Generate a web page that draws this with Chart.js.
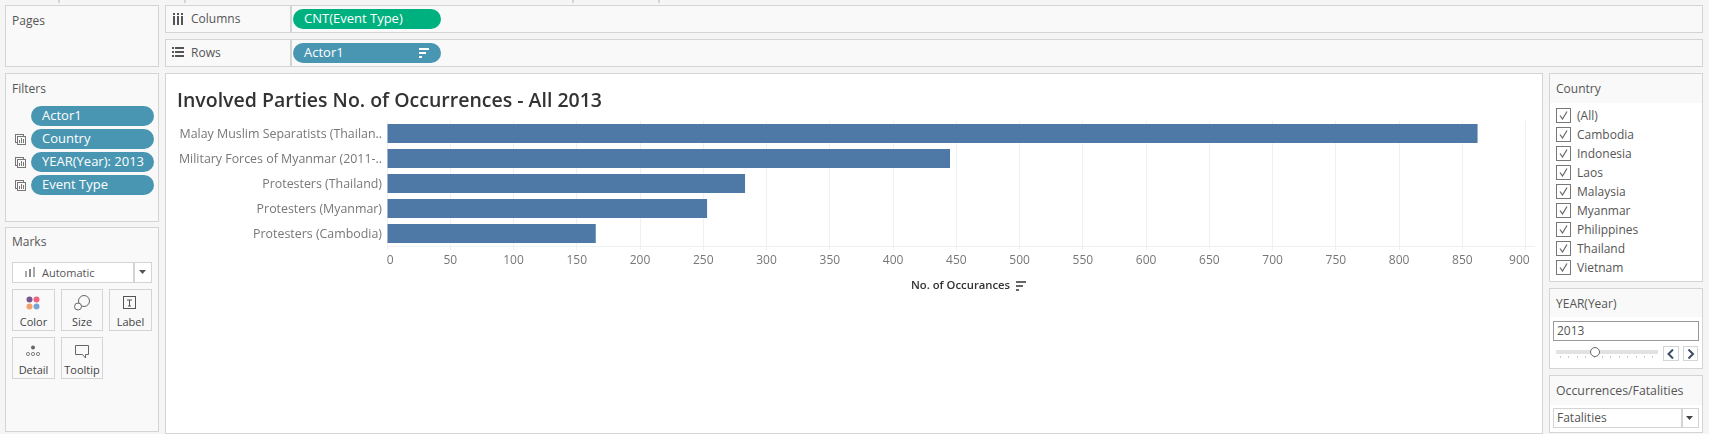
<!DOCTYPE html>
<html>
<head>
<meta charset="utf-8">
<title>Involved Parties No. of Occurrences - All 2013</title>
<script src="https://cdn.jsdelivr.net/npm/chart.js@4"></script>
<style>
html, body { margin: 0; padding: 0; background: #fff; overflow: hidden; }
body { width: 1709px; height: 441px; position: relative; font-family: "Open Sans", sans-serif; font-size: 12px; color: #555; }
#back { position: absolute; left: 0; top: 0; width: 1709px; height: 434px; background: #f5f5f5; }
.box { position: absolute; box-sizing: border-box; }
.panel { background: #f9f9f9; border: 1px solid #d4d4d4; }
.white { background: #fff; }
.plain { background: #fff; border: 1px solid #d4d4d4; }
.pill { border-radius: 10px; }
.blue { background: #4996b2; }
.green { background: #00b180; }
.txt { position: absolute; white-space: nowrap; line-height: 16px; }
.on { color: #fff; font-size: 13px; margin-top: -1px; }
.small { font-size: 11px; }
.icon { position: absolute; }
#chart-wrap { position: absolute; left: 166px; top: 74px; width: 1376px; height: 222px; }
</style>
</head>
<body>
<div id="back"></div>
<div id="ui"></div>
<div id="chart-wrap"><canvas id="chart1" width="1376" height="222" style="width:1376px;height:222px"></canvas></div>
<script>
var actors = [
    "Malay Muslim Separatists (Thailan..",
    "Military Forces of Myanmar (2011-..",
    "Protesters (Thailand)",
    "Protesters (Myanmar)",
    "Protesters (Cambodia)"
];
var occurrences = [862, 445, 283, 253, 165];
var xTicks = [0, 50, 100, 150, 200, 250, 300, 350, 400, 450, 500, 550, 600, 650, 700, 750, 800, 850, 900];
var xMax = 906.6;
var chartTitle = "Involved Parties No. of Occurrences - All 2013";
var xTitle = "No. of Occurances";
var filters = ["Actor1", "Country", "YEAR(Year): 2013", "Event Type"];
var countries = ["(All)", "Cambodia", "Indonesia", "Laos", "Malaysia", "Myanmar", "Philippines", "Thailand", "Vietnam"];
var markCards = ["Color", "Size", "Label", "Detail", "Tooltip"];

var ui = document.getElementById("ui");

function box(x1, y1, x2, y2, cls) {
    var d = document.createElement("div");
    d.className = "box " + cls;
    d.style.left = x1 + "px";
    d.style.top = y1 + "px";
    d.style.width = (x2 - x1) + "px";
    d.style.height = (y2 - y1) + "px";
    ui.appendChild(d);
    return d;
}

function label(x, yc, text, cls) {
    var d = document.createElement("div");
    d.className = "txt " + (cls || "");
    d.style.left = x + "px";
    d.style.top = (yc - 8) + "px";
    d.textContent = text;
    ui.appendChild(d);
    return d;
}

function icon(x, y, w, h, inner) {
    var d = document.createElement("div");
    d.className = "icon";
    d.style.left = x + "px";
    d.style.top = y + "px";
    d.innerHTML = '<svg width="' + w + '" height="' + h + '" viewBox="0 0 ' + w + ' ' + h + '" style="display:block">' + inner + '</svg>';
    ui.appendChild(d);
}

function sortIcon(x, y, col) {
    icon(x, y, 11, 10, '<rect x="0" y="0" width="10" height="2" fill="' + col + '"/><rect x="0" y="4" width="7" height="2" fill="' + col + '"/><rect x="0" y="8" width="3" height="2" fill="' + col + '"/>');
}

// top strip
box(58, 0, 59, 3, "panel");
box(184, 0, 185, 3, "panel");
box(572, 0, 573, 3, "panel");
box(658, 0, 659, 3, "panel");

// shelves
box(5, 5, 159, 67, "panel");
label(12, 21, "Pages");
box(165, 5, 1703, 33, "panel");
box(290, 5, 291, 33, "panel");
box(165, 39, 1703, 67, "panel");
box(290, 39, 291, 67, "panel");
icon(172, 13, 12, 12, '<rect x="1" y="3" width="2" height="9" fill="#555"/><rect x="5" y="3" width="2" height="9" fill="#555"/><rect x="9" y="3" width="2" height="9" fill="#555"/><rect x="1" y="0" width="2" height="2" fill="#555"/><rect x="5" y="0" width="2" height="2" fill="#555"/><rect x="9" y="0" width="2" height="2" fill="#555"/>');
label(191, 19, "Columns");
icon(172, 47, 12, 11, '<rect x="0" y="0" width="2" height="2" fill="#555"/><rect x="3" y="0" width="9" height="2" fill="#555"/><rect x="0" y="4" width="2" height="2" fill="#555"/><rect x="3" y="4" width="9" height="2" fill="#555"/><rect x="0" y="8" width="2" height="2" fill="#555"/><rect x="3" y="8" width="9" height="2" fill="#555"/>');
label(191, 53, "Rows");
box(293, 9, 441, 29, "pill green");
label(304, 19, "CNT(Event Type)", "on");
box(293, 43, 441, 63, "pill blue");
label(304, 53, "Actor1", "on");
sortIcon(419, 48, "#fff");

// filters
box(5, 73, 159, 222, "panel");
label(12, 89, "Filters");
filters.forEach(function (f, i) {
    var top = 106 + i * 23;
    box(31, top, 154, top + 20, "pill blue");
    label(42, top + 10, f, "on");
    if (i > 0) {
        icon(15, top + 5, 11, 11, '<rect x="0.5" y="0.5" width="8" height="8" fill="none" stroke="#777"/><rect x="2.5" y="2.5" width="8" height="8" fill="#f9f9f9" stroke="#777"/><rect x="4" y="6" width="1" height="3" fill="#777"/><rect x="6" y="4" width="1" height="5" fill="#777"/><rect x="8" y="5" width="1" height="4" fill="#777"/>');
    }
});

// marks
box(5, 227, 159, 432, "panel");
label(12, 242, "Marks");
box(12, 262, 152, 283, "plain");
box(133, 262, 134, 283, "panel");
icon(25, 267, 10, 10, '<rect x="0" y="4" width="2" height="6" fill="#aaa"/><rect x="4" y="2" width="2" height="8" fill="#888"/><rect x="8" y="0" width="2" height="10" fill="#aaa"/>');
label(42, 273, "Automatic", "small");
icon(139, 270, 8, 5, '<path d="M0 0H7L3.5 4Z" fill="#555"/>');
var cardSpots = [[12, 55, 289], [61, 103, 289], [109, 152, 289], [12, 55, 337], [61, 103, 337]];
markCards.forEach(function (c, i) {
    var s = cardSpots[i];
    box(s[0], s[2], s[1], s[2] + 42, "panel");
    var t = label(s[0], s[2] + 33, c, "small");
    t.style.width = (s[1] - s[0]) + "px";
    t.style.textAlign = "center";
    t.style.color = "#444";
});
icon(26, 296, 14, 14, '<circle cx="3.5" cy="3.5" r="3" fill="#76578f"/><circle cx="10.5" cy="3.5" r="3" fill="#f0627d"/><circle cx="3.5" cy="10.5" r="3" fill="#f2a26d"/><circle cx="10.5" cy="10.5" r="3" fill="#7aa5d2"/>');
icon(74, 295, 16, 16, '<circle cx="10" cy="6" r="5.5" fill="none" stroke="#666"/><circle cx="4" cy="11.5" r="3.5" fill="#f9f9f9" stroke="#666"/>');
icon(123, 296, 14, 14, '<rect x="0.5" y="0.5" width="12" height="12" fill="none" stroke="#555"/><path d="M4 4H9M6.5 4V10M5 10H8" fill="none" stroke="#555"/>');
icon(26, 345, 14, 12, '<circle cx="7" cy="2.5" r="2" fill="#666"/><circle cx="2" cy="9" r="1.6" fill="none" stroke="#666" stroke-width="0.8"/><circle cx="7" cy="9" r="1.6" fill="none" stroke="#666" stroke-width="0.8"/><circle cx="12" cy="9" r="1.6" fill="none" stroke="#666" stroke-width="0.8"/>');
icon(75, 345, 15, 14, '<path d="M0.5 0.5H13.5V9.5H10.5V13L7.5 9.5H0.5Z" fill="none" stroke="#666"/>');

// chart panel
box(165, 73, 1543, 434, "plain");

// country filter
box(1549, 73, 1703, 282, "plain");
box(1550, 74, 1702, 103, "panel").style.border = "none";
label(1556, 89, "Country");
countries.forEach(function (c, i) {
    var top = 108 + i * 19;
    box(1556, top, 1571, top + 15, "plain").style.borderColor = "#777";
    icon(1559, top + 3, 9, 9, '<path d="M1 4.5L3.5 8L8 0.5" fill="none" stroke="#666" stroke-width="1.2"/>');
    label(1577, top + 8, c);
});

// year slider
box(1549, 288, 1703, 369, "plain");
box(1550, 289, 1702, 317, "panel").style.border = "none";
label(1556, 303.5, "YEAR(Year)");
box(1553, 321, 1699, 341, "plain").style.borderColor = "#999";
label(1557, 331, "2013");
box(1556, 350, 1658, 354, "panel").style.cssText += "background:#e2e2e2;border:none";
for (var i = 0; i < 12; i++) {
    box(1560 + i * 8.4, 356, 1561 + i * 8.4, 358, "panel").style.cssText += "background:#ccc;border:none";
}
icon(1589, 346, 12, 12, '<circle cx="6" cy="6" r="4.5" fill="#fff" stroke="#666"/>');
box(1663, 346, 1679, 361, "plain");
box(1683, 346, 1698, 361, "plain");
icon(1667, 349, 8, 10, '<path d="M6 0.5L1.5 5L6 9.5" fill="none" stroke="#3d4d66" stroke-width="2"/>');
icon(1687, 349, 8, 10, '<path d="M1.5 0.5L6 5L1.5 9.5" fill="none" stroke="#3d4d66" stroke-width="2"/>');

// parameter
box(1549, 375, 1703, 433, "plain");
box(1550, 376, 1702, 405, "panel").style.border = "none";
var occLabel = label(1556, 391, "Occurrences/Fatalities");
occLabel.style.fontSize = "12.3px";
box(1553, 408, 1699, 428, "plain");
box(1681, 408, 1682, 428, "panel");
label(1557, 418, "Fatalities");
icon(1686, 416, 8, 5, '<path d="M0 0H7L3.5 4Z" fill="#444"/>');

// x axis sort icon
sortIcon(1016, 281, "#666");

var ctx1 = document.getElementById("chart1");

var data1 = {
    labels: actors,
    datasets: [
        {
            label: "No. of Occurances",
            data: occurrences,
            backgroundColor: "#4e79a7",
            categoryPercentage: 1,
            barPercentage: 0.76
        }
    ]
};

var options = {
    indexAxis: "y",
    responsive: false,
    animation: false,
    layout: {
        padding: { left: 11, right: 8, top: 0, bottom: 0 }
    },
    plugins: {
        legend: { display: false },
        tooltip: { enabled: false },
        title: {
            display: true,
            align: "start",
            text: chartTitle,
            color: "#333",
            font: { family: "Open Sans", size: 19.5, weight: "600", lineHeight: 1.2 },
            padding: { top: 16, bottom: 7.6 }
        }
    },
    scales: {
        x: {
            type: "linear",
            min: 0,
            max: xMax,
            afterBuildTicks: function (axis) {
                axis.ticks = xTicks.map(function (v) { return { value: v }; });
            },
            afterFit: function (axis) {
                axis.height = 50;
                axis.paddingLeft = 0;
                axis.paddingRight = 0;
            },
            grid: { color: "#f0f0f0", lineWidth: 1, tickLength: 4, drawTicks: true },
            border: { color: "#f0f0f0" },
            ticks: {
                autoSkip: false,
                maxRotation: 0,
                padding: 3,
                color: "#777",
                font: { family: "Open Sans", size: 12 },
                callback: function (v) {
                    if (v === 0) return "\u00a0\u00a0" + v;
                    if (v === 900) return v + "\u00a0\u00a0\u00a0\u00a0";
                    return "" + v;
                }
            },
            title: {
                display: true,
                text: xTitle,
                color: "#333",
                font: { family: "Open Sans", size: 11.3, weight: "600" },
                padding: { top: 0, bottom: 3 }
            }
        },
        y: {
            afterFit: function (axis) {
                axis.width = 210;
                axis.paddingTop = 0;
                axis.paddingBottom = 0;
            },
            grid: { display: false, drawTicks: false },
            border: { color: "#f0f0f0" },
            ticks: {
                padding: 5,
                labelOffset: 1,
                color: "#777",
                font: { family: "Open Sans", size: 12.4 },
                autoSkip: false
            }
        }
    }
};

var chart1 = new Chart(ctx1, {
    type: "bar",
    data: data1,
    options: options
});
</script>
</body>
</html>
